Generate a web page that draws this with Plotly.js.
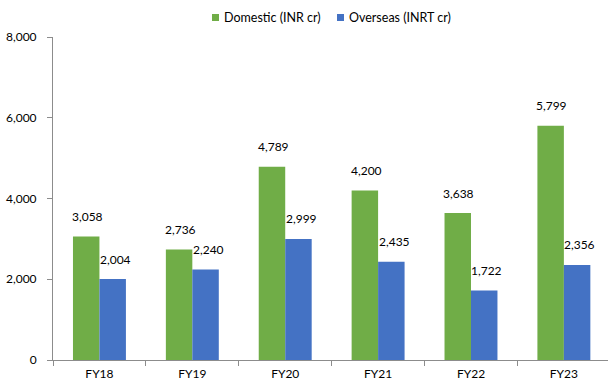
<!DOCTYPE html>
<html>
<head>
<meta charset="utf-8">
<script src="https://cdn.plot.ly/plotly-3.0.1.min.js"></script>
<style>
  html, body { margin: 0; padding: 0; background: #fff; }
  #chart { width: 608px; height: 384px; }
</style>
</head>
<body>
<div id="chart"></div>
<script>
// Revenue split by year
const years = ['FY18', 'FY19', 'FY20', 'FY21', 'FY22', 'FY23'];
const domestic = [3058, 2736, 4789, 4200, 3638, 5799];
const overseas = [2004, 2240, 2999, 2435, 1722, 2356];
const seriesNames = ['Domestic (INR cr)', 'Overseas (INRT cr)'];
const yTicks = [0, 2000, 4000, 6000, 8000];

const GREEN = '#70AD47';
const BLUE = '#4472C4';
const FONT = 'Lato, "Open Sans", sans-serif';

const fmt = v => v.toLocaleString('en-US');

const traces = [
  { type: 'bar', x: years, y: domestic, name: seriesNames[0], marker: { color: GREEN }, hoverinfo: 'skip' },
  { type: 'bar', x: years, y: overseas, name: seriesNames[1], marker: { color: BLUE }, hoverinfo: 'skip' }
];

// value labels above each bar
const annotations = [];
years.forEach((yr, i) => {
  annotations.push({ x: yr, y: domestic[i], xref: 'x', yref: 'y', text: fmt(domestic[i]),
    showarrow: false, xshift: -12, yshift: 20, yanchor: 'middle',
    font: { family: FONT, size: 12, color: '#000' } });
  annotations.push({ x: yr, y: overseas[i], xref: 'x', yref: 'y', text: fmt(overseas[i]),
    showarrow: false, xshift: 16, yshift: 20, yanchor: 'middle',
    font: { family: FONT, size: 12, color: '#000' } });
});

// compact legend: small colour swatch followed closely by the series name
const PLOT_L = 53, PLOT_W = 555, PLOT_B = 360, PLOT_H = 323;
const px = v => (v - PLOT_L) / PLOT_W;
const py = v => (PLOT_B - v) / PLOT_H;
const legendKeys = [
  { name: seriesNames[0], color: GREEN, left: 212 },
  { name: seriesNames[1], color: BLUE, left: 337 }
];
const shapes = [];
legendKeys.forEach(k => {
  shapes.push({ type: 'rect', xref: 'paper', yref: 'paper',
    x0: px(k.left), x1: px(k.left + 7), y0: py(21), y1: py(14),
    fillcolor: k.color, line: { width: 0 } });
  annotations.push({ xref: 'paper', yref: 'paper', x: px(k.left + 9.5), y: py(17.5),
    xanchor: 'left', yanchor: 'middle', showarrow: false, text: k.name,
    font: { family: FONT, size: 12.5, color: '#000' } });
});

const layout = {
  width: 608, height: 384,
  margin: { l: PLOT_L, r: 0, t: 37, b: 24, pad: 0 },
  paper_bgcolor: '#fff', plot_bgcolor: '#fff',
  font: { family: FONT, size: 12, color: '#000' },
  barmode: 'group', bargap: 0.43, bargroupgap: 0,
  showlegend: false,
  xaxis: {
    type: 'category', range: [-0.5, 5.475],
    showline: true, linecolor: '#8c8c8c', linewidth: 1,
    ticks: 'outside', tickson: 'boundaries', ticklen: 5, tickcolor: '#8c8c8c',
    showgrid: false, zeroline: false, ticklabelstandoff: 3,
    tickfont: { family: FONT, size: 12, color: '#000' }
  },
  yaxis: {
    range: [0, 8000], tickvals: yTicks, ticktext: yTicks.map(fmt),
    showline: true, linecolor: '#8c8c8c', linewidth: 1,
    ticks: 'outside', ticklen: 5, tickcolor: '#8c8c8c',
    showgrid: false, zeroline: false,
    ticklabelstandoff: 8,
    tickfont: { family: FONT, size: 12, color: '#000' }
  },
  shapes: shapes,
  annotations: annotations
};

Plotly.newPlot('chart', traces, layout, { staticPlot: true, displayModeBar: false });
</script>
</body>
</html>
